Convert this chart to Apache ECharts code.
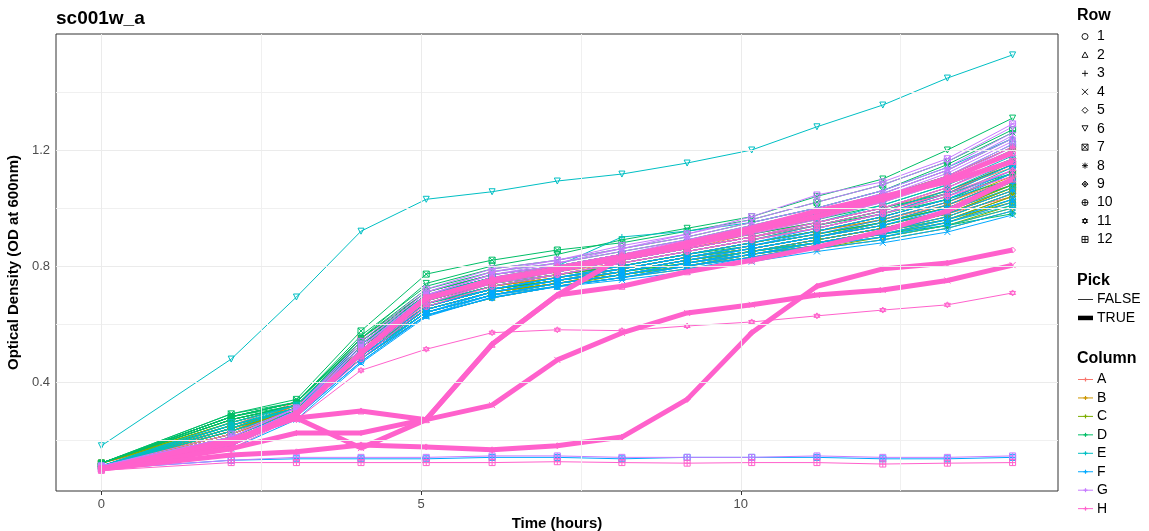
<!DOCTYPE html>
<html><head><meta charset="utf-8">
<script src="https://cdn.jsdelivr.net/npm/echarts@6/dist/echarts.min.js"></script>
<style>html,body{margin:0;padding:0;background:#fff}#c{width:1149px;height:531px}</style>
</head><body><div id="c"></div>
<script>
// ---------- data ----------
const times = [0, 2.03, 3.05, 4.06, 5.08, 6.11, 7.13, 8.14, 9.16, 10.17, 11.19, 12.22, 13.23, 14.25];
const columnNames = ['A','B','C','D','E','F','G','H'];
const rowNames = ['1','2','3','4','5','6','7','8','9','10','11','12'];
const columnColors = ['#F8766D','#CD9600','#7CAE00','#00BE67','#00BFC4','#00A9FF','#C77CFF','#FF61CC'];
const pickedWells = ['H1','H2','H3','H4','H5'];
const pickNames = ['FALSE','TRUE'];
const xTickValues = [0, 5, 10];
const yTickValues = [0.4, 0.8, 1.2];
const xGridMinor = [2.5, 7.5, 12.5];
const yGridMinor = [0.2, 0.6, 1.0, 1.4];

const colA = [
 [0.11,0.22,0.31,0.52,0.69,0.75,0.78,0.81,0.85,0.89,0.94,0.99,1.06,1.15],
 [0.11,0.21,0.30,0.51,0.68,0.74,0.77,0.80,0.84,0.88,0.92,0.97,1.03,1.12],
 [0.12,0.23,0.32,0.53,0.70,0.76,0.79,0.82,0.86,0.90,0.95,1.00,1.07,1.17],
 [0.11,0.22,0.31,0.52,0.69,0.75,0.78,0.82,0.86,0.91,0.96,1.02,1.09,1.19],
 [0.11,0.24,0.32,0.54,0.70,0.76,0.79,0.83,0.87,0.91,0.95,1.00,1.06,1.14],
 [0.11,0.21,0.30,0.50,0.66,0.72,0.75,0.78,0.82,0.85,0.89,0.93,0.98,1.04],
 [0.12,0.25,0.33,0.55,0.71,0.77,0.80,0.84,0.88,0.93,0.98,1.04,1.11,1.21],
 [0.11,0.23,0.31,0.52,0.68,0.74,0.77,0.81,0.85,0.89,0.93,0.98,1.04,1.13],
 [0.11,0.22,0.31,0.51,0.67,0.73,0.76,0.79,0.83,0.87,0.91,0.96,1.02,1.10],
 [0.11,0.22,0.30,0.50,0.66,0.72,0.76,0.79,0.83,0.86,0.90,0.94,0.99,1.07],
 [0.11,0.23,0.32,0.53,0.69,0.75,0.78,0.82,0.86,0.90,0.94,0.99,1.05,1.16],
 [0.11,0.22,0.31,0.51,0.67,0.73,0.77,0.80,0.84,0.88,0.92,0.96,1.01,1.08]
];
const colB = [
 [0.11,0.21,0.30,0.49,0.65,0.71,0.74,0.77,0.81,0.84,0.88,0.92,0.97,1.05],
 [0.11,0.22,0.31,0.50,0.66,0.72,0.75,0.78,0.82,0.85,0.89,0.93,0.98,1.07],
 [0.11,0.23,0.31,0.51,0.67,0.73,0.76,0.79,0.83,0.87,0.91,0.95,1.01,1.10],
 [0.11,0.22,0.30,0.50,0.65,0.71,0.74,0.77,0.80,0.84,0.87,0.91,0.95,1.02],
 [0.11,0.24,0.32,0.52,0.68,0.74,0.77,0.80,0.84,0.88,0.92,0.97,1.03,1.12],
 [0.11,0.21,0.30,0.49,0.64,0.70,0.74,0.77,0.80,0.83,0.87,0.90,0.94,1.00],
 [0.12,0.24,0.32,0.52,0.68,0.74,0.77,0.81,0.85,0.89,0.93,0.98,1.05,1.15],
 [0.11,0.23,0.31,0.51,0.66,0.72,0.75,0.78,0.82,0.86,0.90,0.94,0.99,1.08],
 [0.11,0.22,0.30,0.50,0.65,0.71,0.74,0.77,0.81,0.85,0.88,0.92,0.96,1.04],
 [0.11,0.22,0.31,0.50,0.66,0.72,0.75,0.79,0.83,0.86,0.90,0.95,1.00,1.09],
 [0.11,0.23,0.31,0.51,0.67,0.73,0.76,0.80,0.84,0.88,0.92,0.96,1.02,1.11],
 [0.11,0.22,0.30,0.49,0.65,0.71,0.74,0.78,0.82,0.85,0.89,0.93,0.98,1.06]
];
const colC = [
 [0.11,0.24,0.31,0.49,0.64,0.70,0.74,0.77,0.80,0.84,0.87,0.91,0.95,1.03],
 [0.12,0.25,0.31,0.50,0.65,0.71,0.75,0.78,0.82,0.85,0.89,0.93,0.98,1.06],
 [0.12,0.26,0.32,0.51,0.66,0.72,0.76,0.79,0.83,0.87,0.91,0.95,1.01,1.10],
 [0.11,0.24,0.30,0.48,0.63,0.69,0.73,0.76,0.80,0.83,0.86,0.90,0.94,1.01],
 [0.12,0.27,0.32,0.51,0.66,0.72,0.75,0.79,0.83,0.86,0.90,0.94,0.99,1.08],
 [0.11,0.23,0.30,0.48,0.63,0.69,0.73,0.76,0.79,0.82,0.86,0.89,0.93,0.99],
 [0.12,0.26,0.32,0.52,0.67,0.73,0.77,0.80,0.84,0.88,0.92,0.97,1.03,1.12],
 [0.12,0.25,0.31,0.50,0.65,0.71,0.74,0.78,0.81,0.85,0.88,0.92,0.97,1.05],
 [0.11,0.24,0.31,0.49,0.64,0.70,0.74,0.77,0.81,0.84,0.88,0.92,0.96,1.04],
 [0.11,0.24,0.30,0.49,0.64,0.70,0.73,0.77,0.80,0.84,0.87,0.91,0.96,1.02],
 [0.12,0.26,0.32,0.51,0.66,0.72,0.76,0.79,0.83,0.86,0.90,0.95,1.00,1.09],
 [0.11,0.25,0.31,0.50,0.65,0.71,0.75,0.78,0.82,0.85,0.89,0.93,0.98,1.07]
];
const colD = [
 [0.12,0.28,0.32,0.54,0.71,0.77,0.80,0.84,0.88,0.93,0.98,1.04,1.11,1.21],
 [0.12,0.28,0.33,0.55,0.72,0.78,0.81,0.85,0.89,0.94,0.99,1.05,1.13,1.24],
 [0.12,0.27,0.32,0.53,0.69,0.75,0.78,0.82,0.86,0.90,0.94,0.99,1.06,1.15],
 [0.12,0.29,0.33,0.56,0.73,0.79,0.82,0.86,0.90,0.95,1.00,1.06,1.15,1.26],
 [0.12,0.27,0.32,0.52,0.68,0.74,0.77,0.80,0.84,0.87,0.91,0.95,1.00,1.08],
 [0.12,0.28,0.33,0.55,0.74,0.80,0.84,0.89,0.93,0.97,1.04,1.10,1.20,1.31],
 [0.12,0.29,0.34,0.576,0.772,0.82,0.855,0.88,0.92,0.96,1.02,1.08,1.16,1.27],
 [0.12,0.28,0.33,0.54,0.70,0.76,0.79,0.83,0.87,0.92,0.97,1.03,1.10,1.20],
 [0.12,0.27,0.32,0.53,0.67,0.72,0.75,0.78,0.81,0.85,0.88,0.91,0.94,0.98],
 [0.12,0.28,0.33,0.55,0.71,0.77,0.80,0.84,0.88,0.92,0.96,1.01,1.08,1.17],
 [0.12,0.27,0.32,0.53,0.69,0.75,0.79,0.83,0.87,0.91,0.95,1.00,1.05,1.12],
 [0.12,0.28,0.33,0.54,0.70,0.76,0.79,0.83,0.86,0.90,0.94,0.98,1.03,1.10]
];
const colE = [
 [0.11,0.25,0.31,0.51,0.67,0.73,0.77,0.81,0.85,0.89,0.94,0.99,1.06,1.16],
 [0.11,0.24,0.31,0.50,0.66,0.72,0.76,0.80,0.84,0.88,0.92,0.97,1.03,1.12],
 [0.11,0.26,0.32,0.52,0.69,0.75,0.80,0.90,0.92,0.95,1.00,1.06,1.14,1.24],
 [0.11,0.23,0.30,0.49,0.64,0.70,0.74,0.77,0.80,0.83,0.87,0.90,0.94,1.00],
 [0.11,0.25,0.31,0.51,0.67,0.74,0.78,0.82,0.86,0.90,0.95,1.01,1.08,1.18],
 [0.18,0.479,0.693,0.92,1.03,1.056,1.093,1.117,1.155,1.20,1.28,1.355,1.448,1.528],
 [0.11,0.26,0.32,0.53,0.70,0.76,0.80,0.84,0.88,0.92,0.97,1.03,1.11,1.22],
 [0.11,0.24,0.31,0.50,0.65,0.71,0.75,0.78,0.82,0.85,0.88,0.92,0.96,1.03],
 [0.11,0.25,0.32,0.52,0.68,0.74,0.78,0.82,0.86,0.90,0.95,1.00,1.07,1.17],
 [0.11,0.24,0.31,0.50,0.66,0.72,0.76,0.79,0.83,0.86,0.90,0.94,0.99,1.07],
 [0.11,0.25,0.31,0.51,0.67,0.73,0.77,0.81,0.85,0.89,0.93,0.98,1.04,1.14],
 [0.11,0.23,0.30,0.49,0.64,0.70,0.74,0.77,0.81,0.84,0.88,0.91,0.95,1.01]
];
const colF = [
 [0.11,0.19,0.29,0.48,0.64,0.70,0.74,0.77,0.81,0.84,0.88,0.92,0.97,1.05],
 [0.11,0.18,0.29,0.48,0.63,0.70,0.73,0.76,0.80,0.83,0.87,0.90,0.95,1.02],
 [0.11,0.20,0.30,0.50,0.66,0.72,0.76,0.79,0.83,0.87,0.91,0.96,1.02,1.12],
 [0.11,0.17,0.27,0.465,0.625,0.693,0.728,0.752,0.78,0.815,0.85,0.88,0.917,0.976],
 [0.11,0.19,0.29,0.49,0.65,0.71,0.75,0.78,0.82,0.86,0.90,0.95,1.01,1.10],
 [0.11,0.18,0.28,0.47,0.63,0.69,0.73,0.76,0.79,0.83,0.86,0.89,0.93,0.99],
 [0.11,0.21,0.30,0.50,0.66,0.72,0.76,0.80,0.84,0.88,0.93,0.98,1.05,1.15],
 [0.11,0.19,0.29,0.48,0.64,0.70,0.74,0.77,0.81,0.85,0.89,0.93,0.98,1.06],
 [0.11,0.20,0.30,0.49,0.65,0.71,0.75,0.79,0.83,0.87,0.92,0.97,1.03,1.13],
 [0.11,0.18,0.28,0.47,0.63,0.69,0.73,0.76,0.80,0.84,0.87,0.91,0.96,1.03],
 [0.11,0.19,0.29,0.48,0.64,0.71,0.75,0.78,0.82,0.86,0.90,0.94,1.00,1.09],
 [0.10,0.13,0.135,0.135,0.135,0.14,0.14,0.135,0.14,0.14,0.14,0.135,0.135,0.14]
];
const colG = [
 [0.11,0.20,0.30,0.52,0.70,0.77,0.80,0.84,0.88,0.93,0.98,1.04,1.12,1.23],
 [0.11,0.19,0.30,0.51,0.69,0.76,0.79,0.83,0.87,0.91,0.96,1.02,1.09,1.19],
 [0.11,0.21,0.31,0.53,0.71,0.78,0.81,0.86,0.90,0.95,1.00,1.06,1.14,1.26],
 [0.11,0.20,0.30,0.52,0.70,0.77,0.80,0.84,0.89,0.93,0.99,1.05,1.13,1.25],
 [0.11,0.20,0.30,0.51,0.68,0.75,0.78,0.82,0.86,0.90,0.95,1.00,1.07,1.17],
 [0.11,0.21,0.31,0.53,0.71,0.78,0.82,0.86,0.91,0.96,1.02,1.08,1.16,1.28],
 [0.11,0.22,0.31,0.54,0.72,0.79,0.82,0.87,0.91,0.97,1.045,1.09,1.17,1.29],
 [0.11,0.20,0.30,0.52,0.69,0.76,0.79,0.83,0.87,0.92,0.97,1.02,1.10,1.21],
 [0.11,0.19,0.29,0.50,0.67,0.74,0.77,0.81,0.85,0.89,0.93,0.98,1.04,1.13],
 [0.11,0.20,0.30,0.51,0.69,0.76,0.79,0.83,0.87,0.92,0.97,1.03,1.11,1.22],
 [0.11,0.21,0.31,0.52,0.70,0.77,0.81,0.85,0.89,0.94,0.99,1.05,1.13,1.24],
 [0.10,0.13,0.14,0.14,0.14,0.145,0.145,0.14,0.14,0.14,0.145,0.14,0.14,0.145]
];
const colH = [
 [0.10,0.19,0.29,0.50,0.69,0.75,0.79,0.83,0.87,0.92,0.97,1.03,1.10,1.19],
 [0.10,0.20,0.276,0.30,0.27,0.53,0.70,0.73,0.78,0.82,0.865,0.92,0.99,1.10],
 [0.10,0.17,0.224,0.224,0.272,0.53,0.70,0.83,0.88,0.93,0.99,1.04,1.09,1.16],
 [0.10,0.20,0.276,0.172,0.27,0.32,0.476,0.569,0.638,0.666,0.70,0.717,0.75,0.803],
 [0.10,0.148,0.159,0.183,0.176,0.166,0.18,0.21,0.34,0.57,0.73,0.79,0.81,0.855],
 [0.10,0.18,0.29,0.50,0.69,0.75,0.79,0.83,0.87,0.92,0.97,1.03,1.10,1.20],
 [0.10,0.18,0.28,0.49,0.67,0.74,0.78,0.82,0.86,0.90,0.95,1.00,1.07,1.16],
 [0.10,0.19,0.29,0.51,0.69,0.76,0.80,0.84,0.88,0.93,0.98,1.04,1.11,1.21],
 [0.10,0.18,0.28,0.49,0.68,0.74,0.78,0.82,0.86,0.90,0.94,0.99,1.05,1.13],
 [0.10,0.17,0.28,0.48,0.66,0.73,0.77,0.81,0.85,0.89,0.93,0.98,1.04,1.11],
 [0.10,0.19,0.27,0.44,0.513,0.57,0.58,0.577,0.593,0.607,0.628,0.648,0.666,0.707],
 [0.095,0.122,0.122,0.122,0.122,0.122,0.125,0.122,0.12,0.122,0.122,0.117,0.12,0.122]
];
const wellsByColumn = [colA, colB, colC, colD, colE, colF, colG, colH];

// ---------- shapes (ggplot shapes 1..12), in a 10x10 box ----------
const shapePaths = [
 'M0,5A5,5,0,1,1,10,5A5,5,0,1,1,0,5Z',
 'M5,0L10,9L0,9Z',
 'M5,0L5,10M0,5L10,5',
 'M0,0L10,10M10,0L0,10',
 'M5,0L10,5L5,10L0,5Z',
 'M0,0L10,0L5,9Z',
 'M0,0L10,0L10,10L0,10ZM0,0L10,10M10,0L0,10',
 'M5,0L5,10M0,5L10,5M1.5,1.5L8.5,8.5M8.5,1.5L1.5,8.5',
 'M5,0L10,5L5,10L0,5ZM5,0L5,10M0,5L10,5',
 'M0,5A5,5,0,1,1,10,5A5,5,0,1,1,0,5ZM5,0L5,10M0,5L10,5',
 'M5,0L9.33,7.5L0.67,7.5ZM5,10L0.67,2.5L9.33,2.5Z',
 'M0,0L10,0L10,10L0,10ZM5,0L5,10M0,5L10,5'
];

const FONT = '"Liberation Sans", Arial, sans-serif';
const series = [];

// background grid lines
series.push({
  type: 'line', name: 'grid', data: [], z: 0, silent: true, animation: false,
  markLine: {
    silent: true, animation: false, symbol: ['none','none'], label: {show: false},
    emphasis: {disabled: true},
    data: [].concat(
      yGridMinor.map(v => ({yAxis: v, lineStyle: {color: '#F0F0F0', width: 1, type: 'solid'}})),
      xGridMinor.map(v => ({xAxis: v, lineStyle: {color: '#F0F0F0', width: 1, type: 'solid'}})),
      yTickValues.map(v => ({yAxis: v, lineStyle: {color: '#EBEBEB', width: 1, type: 'solid'}})),
      xTickValues.map(v => ({xAxis: v, lineStyle: {color: '#EBEBEB', width: 1, type: 'solid'}}))
    )
  }
});

columnNames.forEach((c, ci) => {
  const col = columnColors[ci];
  wellsByColumn[ci].forEach((vals, ri) => {
    const id = c + rowNames[ri];
    const thick = pickedWells.indexOf(id) >= 0;
    series.push({
      type: 'line', name: id,
      data: times.map((t, i) => [t, vals[i]]),
      symbol: 'path://' + shapePaths[ri], symbolSize: 6, showSymbol: true,
      lineStyle: {color: col, width: thick ? 5 : 1},
      itemStyle: {color: 'rgba(0,0,0,0)', borderColor: col, borderWidth: 1},
      emphasis: {disabled: true}, silent: true, animation: false,
      z: thick ? 3 : 2
    });
  });
});

// ---------- legend graphics ----------
const graphics = [];
const LX = 1077;
// turn a shape path (10x10 box) into basic graphic elements
function shapeElements(path, cx, cy, size, color, lw) {
  const s = size / 10, ox = cx - size / 2, oy = cy - size / 2;
  const out = [];
  path.split('M').filter(p => p.length).forEach(sub => {
    if (sub.indexOf('A') >= 0) {
      out.push({type: 'circle', shape: {cx: cx, cy: cy, r: size / 2}, style: {fill: 'none', stroke: color, lineWidth: lw}});
      return;
    }
    const closed = /Z/.test(sub);
    const pts = sub.replace('Z', '').split('L').map(q => {
      const xy = q.split(',').map(Number); return [ox + xy[0] * s, oy + xy[1] * s];
    });
    out.push({type: closed ? 'polygon' : 'polyline', shape: {points: pts}, style: {fill: 'none', stroke: color, lineWidth: lw}});
  });
  return out;
}
function title(t, y) {
  graphics.push({type: 'text', x: LX, y: y, style: {text: t, fontFamily: FONT, fontSize: 16, fontWeight: 'bold', fill: '#000', verticalAlign: 'middle'}});
}
function label(t, y) {
  graphics.push({type: 'text', x: 1097, y: y, style: {text: t, fontFamily: FONT, fontSize: 14, fill: '#000', verticalAlign: 'middle'}});
}
title('Row', 16);
rowNames.forEach((r, i) => {
  const y = 36.5 + i * 18.45;
  shapeElements(shapePaths[i], 1085, y, 6, '#000', 0.9).forEach(e => graphics.push(e));
  label(r, y);
});
title('Pick', 281);
pickNames.forEach((p, i) => {
  const y = 299.5 + i * 18.45;
  graphics.push({type: 'line', shape: {x1: 1078, y1: y, x2: 1093, y2: y}, style: {stroke: i ? '#000' : '#333', lineWidth: i ? 4.5 : 1}});
  label(p, y);
});
title('Column', 359);
columnNames.forEach((c, i) => {
  const y = 379.5 + i * 18.45;
  graphics.push({type: 'line', shape: {x1: 1078, y1: y, x2: 1093, y2: y}, style: {stroke: columnColors[i], lineWidth: 1}});
  shapeElements(shapePaths[2], 1085.5, y, 4, columnColors[i], 1.2).forEach(e => graphics.push(e));
  label(c, y);
});

const option = {
  backgroundColor: '#fff',
  animation: false,
  title: {text: 'sc001w_a', left: 56, top: 9, padding: 0,
    textStyle: {fontFamily: FONT, fontSize: 19, fontWeight: 'bold', color: '#000'}},
  grid: {left: 56, top: 34, right: 91, bottom: 40, show: true, borderColor: '#333', borderWidth: 1,
    backgroundColor: 'transparent', containLabel: false, outerBoundsMode: 'none'},
  xAxis: {
    type: 'value', min: -0.71, max: 14.96,
    axisLine: {show: false}, splitLine: {show: false},
    axisTick: {show: true, customValues: xTickValues, length: 4, lineStyle: {color: '#333'}},
    axisLabel: {customValues: xTickValues, color: '#4D4D4D', fontSize: 13, margin: 7, fontFamily: FONT},
    name: 'Time (hours)', nameLocation: 'middle', nameGap: 22,
    nameTextStyle: {fontFamily: FONT, fontSize: 15, fontWeight: 'bold', color: '#000'}
  },
  yAxis: {
    type: 'value', min: 0.024, max: 1.6,
    axisLine: {show: false}, splitLine: {show: false},
    axisTick: {show: true, customValues: yTickValues, length: 4, lineStyle: {color: '#333'}},
    axisLabel: {customValues: yTickValues, color: '#4D4D4D', fontSize: 13, margin: 6, fontFamily: FONT,
      formatter: v => v.toFixed(1)},
    name: 'Optical Density (OD at 600nm)', nameLocation: 'middle', nameGap: 25, nameRotate: 90,
    nameTextStyle: {fontFamily: FONT, fontSize: 15, fontWeight: 'bold', color: '#000'}
  },
  graphic: {elements: graphics},
  series: series
};
const chart = echarts.init(document.getElementById('c'));
chart.setOption(option);
</script></body></html>
